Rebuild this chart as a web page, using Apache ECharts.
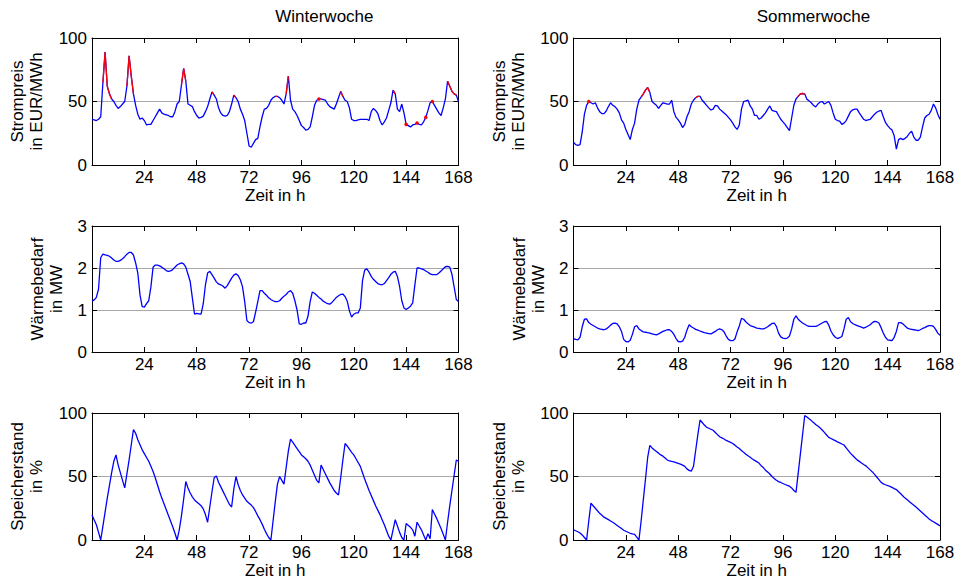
<!DOCTYPE html>
<html><head><meta charset="utf-8">
<script src="https://cdn.jsdelivr.net/npm/echarts@6/dist/echarts.min.js"></script>
<style>html,body{margin:0;padding:0;background:#fff}#c{width:959px;height:580px}</style>
</head><body><div id="c"></div>
<script>
// ---- data (hourly, h = 0..168) ----
const panelTitles = ['Winterwoche', 'Sommerwoche'];
const xTicks = [0, 24, 48, 72, 96, 120, 144, 168];

const winterPrice = [
36,35.5,35,36,38,65,89,62,56,52,
50,47,44.5,46,48,50,62,86,70,56,
47,40,36,37,35,31.5,32,32,35,38,
41,44,41,40,39.5,39,38,38,42,48,
50,63,76,66,48,47,46,42,39,37,
37.5,38.5,42,46,52,57.5,55,52,45,41,
39,38.5,39,42,48,55,53,50,44,40,
35,25,15,14,17,20,21,30,38,44,
44.5,47,51,53,54,54,53,51,48,56,
70,51,44,42,39,35,31,29.5,27.5,28,
30,38,47,51,52,52,51.5,51,48,46,
45,44,48,53,58,54,51,50,45,36,
35,35,35.5,36,36,36,36,35,42,44.5,
43,40.5,35,31.5,34,37,43,49,59,56,
44,42,48,41,32,31,30,31.5,32,33,
32,31.5,34,37.5,43,49,50,47,44,41,
39,45,52,66,62,58,56,55,50];
const winterRedHours = [5,6,7,8,9,16,17,18,19,41,42,43,55,56,65,66,84,85,89,90,104,114,115,138,139,144,149,153,156,163,164,165,166,167];

const summerPrice = [
18,16,15.5,16,26,40,47,50,49,48,
49,45,42,40.5,40.5,42.5,46,49,47,46,
44,41,35.5,33,28,24,20,28,33,44,
51,53.5,56,59,61,57,50,48.5,47,44.5,
47,49,48.5,48,48,51,42,37.5,35.5,33,
29.5,32,38,42,48,51,53,54,54,51,
49,47,45,43.3,44,47,46.5,44,42.5,41,
39.5,37.5,35.5,33,30,28,31.5,44,50,50.5,
51,46.5,44,39,39,36,37,39,41,44,
46.5,43,42.5,42,39,36,34,32,29.5,27,
37,47,52,54,56,56.3,56,51.7,50.5,49,
47,45.7,48,49.5,50,48,49,50,47,41,
36,35,34.5,32,33,35,38.5,42,43.5,44,
44,41,38.5,36,35,35.5,36,38,40,41.5,
42.5,43,38,33.5,31,29,27.6,23,12.5,20,
21,20,21,22.5,25,26.5,22,19.5,19.5,22,
30,37,39,40,43,48,45,40,36];
const summerRedHours = [7,31,32,33,34,35,56,57,58,103,104,105,106];

const winterHeat = [
1.21,1.24,1.30,1.50,2.25,2.33,2.31,2.30,2.28,2.24,
2.19,2.16,2.16,2.18,2.22,2.27,2.33,2.37,2.37,2.31,
2.12,1.88,1.36,1.08,1.07,1.15,1.22,1.55,2.02,2.07,
2.07,2.05,2.02,1.98,1.94,1.92,1.93,1.96,2.02,2.07,
2.10,2.12,2.10,2.02,1.85,1.68,1.29,0.90,0.92,0.91,
0.90,1.15,1.60,1.88,1.92,1.84,1.76,1.67,1.62,1.60,
1.57,1.52,1.58,1.67,1.76,1.83,1.86,1.82,1.72,1.55,
1.20,0.75,0.70,0.69,0.72,0.95,1.20,1.46,1.46,1.40,
1.35,1.29,1.25,1.22,1.20,1.20,1.22,1.28,1.33,1.37,
1.43,1.46,1.40,1.22,1.00,0.67,0.66,0.69,0.69,0.85,
1.20,1.43,1.40,1.35,1.30,1.26,1.21,1.18,1.15,1.14,
1.18,1.24,1.30,1.34,1.37,1.38,1.32,1.21,0.98,0.83,
0.90,0.93,0.93,1.05,1.70,1.95,1.98,1.90,1.80,1.73,
1.68,1.63,1.61,1.60,1.63,1.70,1.77,1.85,1.90,1.92,
1.80,1.56,1.22,1.05,1.01,1.05,1.09,1.17,1.60,2.00,
2.00,1.98,1.96,1.93,1.90,1.86,1.84,1.84,1.84,1.88,
1.93,1.98,2.03,2.04,2.02,1.85,1.55,1.25,1.20];

const summerHeat = [
.32,.30,.29,.35,.60,.78,.79,.70,.66,.63,
.60,.57,.55,.54,.53,.55,.59,.64,.68,.69,
.67,.60,.49,.30,.25,.24,.28,.42,.60,.63,
.55,.51,.48,.47,.46,.45,.43,.42,.41,.43,
.46,.49,.51,.53,.53,.49,.42,.32,.25,.24,
.26,.35,.52,.65,.60,.57,.54,.52,.50,.48,
.46,.45,.44,.43,.46,.49,.53,.55,.53,.48,
.38,.30,.27,.27,.31,.48,.62,.80,.78,.72,
.67,.63,.61,.59,.57,.56,.55,.55,.57,.60,
.64,.68,.69,.61,.45,.36,.33,.32,.33,.38,
.55,.78,.86,.78,.73,.69,.66,.63,.61,.61,
.61,.61,.63,.66,.69,.72,.73,.64,.50,.41,
.35,.32,.34,.37,.55,.78,.82,.72,.68,.65,
.63,.61,.59,.57,.59,.62,.65,.70,.73,.72,
.69,.58,.45,.35,.29,.28,.27,.35,.49,.70,
.70,.67,.62,.57,.55,.54,.53,.52,.51,.53,
.56,.58,.61,.63,.63,.61,.54,.45,.40];

const winterStorage = [
19.7,15.8,12,6,0,11,22,33,43,53,
62,67,59,53,47,41,52,63,75,87,
84,79,75,71,68,65,62,58,54,49,
43.5,38,33,28.5,24,19.5,15,10.5,5.5,0,
8,19,32,46,41,37,34,31.5,30,28.5,
27,24.5,20,14,26,38,49,50.5,45.5,42,
38.5,35,31.5,28,26,40,50,43.5,39,35.5,
33,30.5,29,27.5,25.5,22.5,19,16,12.5,8.5,
5,2,0,15,30,44,50,47,44,57,
70,79.5,77,74.5,72,69.5,67,65.5,64,62,
59,55,51,47,45,59,55.5,52,48.5,45,
42,39,37,35.4,49,63,76,74,71.5,69,
67,64,61,58,53,48,43.5,39,35,31,
27,23.5,20,16,12,7.5,3,0,8,16,
11,6,2,0,13,11.5,10,8,3,14,
11,8,4,0,5,1,24,20.5,17,13,
9,4.5,0,14,27,39,51,63,62];

const summerStorage = [
8,7.3,6.5,5.5,4,2,0,15,29,27,
25,23,21,19.5,18,17,16,15,14,12.8,
11.5,10.2,9,7.7,6.9,6.1,5.3,4.8,4.4,2.3,
0,15,31.6,48,65,74.5,72.5,71,69.7,68.4,
67,66,64.5,63,62.3,61.9,61.5,61,60.3,59.7,
59,58,56,54.8,54.2,58,70.5,83,94.5,92.5,
90.5,88.8,88,87.2,86.4,84.7,83,81.3,80.4,79.5,
78.4,77.6,76.9,76,74.7,73.3,72,70.5,69,67.6,
66.3,65.1,63.8,62.7,61.7,60.6,58.5,57,55,53.5,
52,50,48.5,47,46,45.3,44.5,43.7,43,42.4,
41,39,37.5,52.6,67.8,82.9,98,96.9,95.4,94,
92.5,91,89.7,88.3,86.6,84.7,82.7,80.8,79.9,79,
78.2,77.3,76.5,75.6,74.8,72.6,70.4,68.2,66.5,64.8,
63.1,61.9,60.7,59.5,58.4,56.8,55.2,53.6,51.7,49.6,
47.5,45.4,44.2,43.5,42.9,42.2,41.4,40.5,39.7,38,
36.4,34.7,33,31.6,30.2,28.8,27.4,25.9,24.4,22.9,
21.2,19.7,18.2,16.6,15.3,14.4,13.3,12.3,11];

// ---- layout / style ----
const FONT = '"Liberation Sans", Arial, Helvetica, sans-serif';
const FS = 17;
const colLeft = [92, 573.5];
const plotW = 366.5;
const rowTop = [38, 226, 413];
const rowH = [127, 126, 127];

const panels = [
  {col:0,row:0,data:winterPrice,red:winterRedHours,min:0,max:100,step:50,name:'Strompreis\nin EUR/MWh',gap:46},
  {col:1,row:0,data:summerPrice,red:summerRedHours,min:0,max:100,step:50,name:'Strompreis\nin EUR/MWh',gap:46},
  {col:0,row:1,data:winterHeat,red:null,min:0,max:3,step:1,name:'Wärmebedarf\nin MW',gap:26},
  {col:1,row:1,data:summerHeat,red:null,min:0,max:3,step:1,name:'Wärmebedarf\nin MW',gap:26},
  {col:0,row:2,data:winterStorage,red:null,min:0,max:100,step:50,name:'Speicherstand\nin %',gap:46},
  {col:1,row:2,data:summerStorage,red:null,min:0,max:100,step:50,name:'Speicherstand\nin %',gap:46}
];

const black = '#000';
const grids = [], xAxes = [], yAxes = [], series = [];
panels.forEach((p, i) => {
  grids.push({left: colLeft[p.col], top: rowTop[p.row], width: plotW, height: rowH[p.row], containLabel: false});
  const tick = {show: true, inside: true, length: 5, lineStyle: {color: black, width: 1}};
  const line = {show: true, onZero: false, lineStyle: {color: black, width: 1}};
  xAxes.push({
    gridIndex: i, type: 'value', position: 'bottom', min: 0, max: 168, interval: 24,
    axisLine: line, axisTick: tick, splitLine: {show: false},
    axisLabel: {show: true, color: black, fontSize: FS, fontFamily: FONT, margin: 4,
      formatter: v => (v === 0 ? '' : String(v))},
    name: 'Zeit in h', nameLocation: 'middle', nameGap: 20,
    nameTextStyle: {color: black, fontSize: FS, fontFamily: FONT}
  });
  xAxes.push({
    gridIndex: i, type: 'value', position: 'top', min: 0, max: 168, interval: 24,
    axisLine: line, axisTick: tick, splitLine: {show: false}, axisLabel: {show: false}
  });
  yAxes.push({
    gridIndex: i, type: 'value', position: 'left', min: p.min, max: p.max, interval: p.step,
    axisLine: line, axisTick: tick,
    splitLine: {show: true, lineStyle: {color: '#a8a8a8', width: 1}},
    axisLabel: {show: true, color: black, fontSize: FS, fontFamily: FONT, margin: 5},
    name: p.name, nameLocation: 'middle', nameGap: p.gap, nameRotate: 90,
    nameTextStyle: {color: black, fontSize: FS, fontFamily: FONT, lineHeight: 19, align: 'center'}
  });
  yAxes.push({
    gridIndex: i, type: 'value', position: 'right', min: p.min, max: p.max, interval: p.step,
    axisLine: line, axisTick: tick, splitLine: {show: false}, axisLabel: {show: false}
  });
  series.push({
    type: 'line', xAxisIndex: 2 * i, yAxisIndex: 2 * i,
    data: p.data.map((v, h) => [h, v]),
    showSymbol: false, symbol: 'none', smooth: false,
    lineStyle: {color: '#0000ff', width: 1.3}, z: 3
  });
  if (p.red) {
    const rs = new Set(p.red);
    series.push({
      type: 'line', xAxisIndex: 2 * i, yAxisIndex: 2 * i,
      data: p.data.map((v, h) => {
        if (!rs.has(h)) return [h, '-'];
        const single = !rs.has(h - 1) && !rs.has(h + 1);
        return {value: [h, v], symbol: single ? 'circle' : 'none', symbolSize: single ? 3.5 : 0};
      }),
      connectNulls: false, showSymbol: true, showAllSymbol: true,
      itemStyle: {color: '#ff0000'},
      lineStyle: {color: '#ff0000', width: 1.3}, z: 4
    });
  }
});

const titles = panelTitles.map((t, c) => ({
  type: 'text', left: colLeft[c] + plotW / 2, top: 8,
  style: {text: t, fill: black, font: FS + 'px ' + FONT, textAlign: 'center'}
}));

const chart = echarts.init(document.getElementById('c'), null, {renderer: 'svg', width: 959, height: 580});
chart.setOption({
  animation: false,
  backgroundColor: '#fff',
  grid: grids, xAxis: xAxes, yAxis: yAxes, series: series,
  graphic: titles
});
</script>
</body></html>
